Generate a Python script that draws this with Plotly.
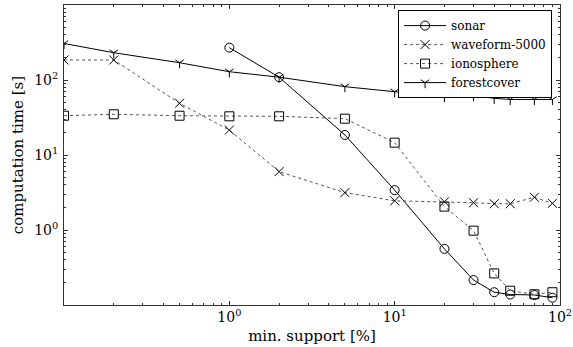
import plotly.graph_objects as go

support = [0.1, 0.2, 0.5, 1, 2, 5, 10, 20, 30, 40, 50, 70, 90]

sonar_x = [1, 2, 5, 10, 20, 30, 40, 50, 70, 90]
sonar_y = [270, 109, 18.5, 3.4, 0.56, 0.215, 0.148, 0.138, 0.136, 0.125]

waveform_y = [185, 185, 49, 21.5, 6.0, 3.15, 2.45, 2.38, 2.31, 2.24, 2.24, 2.73, 2.27]
ionosphere_y = [33.4, 34.9, 33.4, 32.8, 32.8, 30.5, 14.6, 2.05, 0.98, 0.264, 0.155, 0.139, 0.148]
forest_y = [307, 231, 170, 129, 109, 81.5, 69.8, 60, 62, 57, 55, 55, 55]

x_tickvals = [1, 10, 100]
x_ticktext = ["10<sup>0</sup>", "10<sup>1</sup>", "10<sup>2</sup>"]
y_tickvals = [1, 10, 100]
y_ticktext = ["10<sup>0</sup>", "10<sup>1</sup>", "10<sup>2</sup>"]

FONT = "'DejaVu Serif', 'Liberation Serif', serif"

fig = go.Figure()
fig.add_trace(go.Scatter(
    x=sonar_x, y=sonar_y, name="sonar", mode="lines+markers",
    line=dict(color="black", width=1),
    marker=dict(symbol="circle-open", size=9, color="black", line=dict(width=1)),
))
fig.add_trace(go.Scatter(
    x=support, y=waveform_y, name="waveform-5000", mode="lines+markers",
    line=dict(color="#555555", width=1, dash="dot"),
    marker=dict(symbol="x-thin-open", size=9, color="black", line=dict(width=1, color="black")),
))
fig.add_trace(go.Scatter(
    x=support, y=ionosphere_y, name="ionosphere", mode="lines+markers",
    line=dict(color="#555555", width=1, dash="dot"),
    marker=dict(symbol="square-open", size=9, color="black", line=dict(width=1)),
))
fig.add_trace(go.Scatter(
    x=support, y=forest_y, name="forestcover", mode="lines+markers",
    line=dict(color="black", width=1),
    marker=dict(symbol="y-down-open", size=7, color="black", line=dict(width=1, color="black")),
))

minor_vals = [m * 10 ** e for e in (-1, 0, 1, 2) for m in range(2, 10)]

axis_common = dict(
    type="log", showgrid=False, zeroline=False, automargin=False,
    showline=True, linecolor="#333333", linewidth=1, mirror="allticks",
    ticks="inside", ticklen=4, tickcolor="#333333",
    tickfont=dict(family=FONT, size=14, color="black"),
    ticklabeloverflow="allow",
)

fig.update_xaxes(
    **axis_common, range=[-1, 2], tickvals=x_tickvals, ticktext=x_ticktext,
    ticklabelstandoff=-1,
    minor=dict(ticks="inside", ticklen=2, tickcolor="#333333", tickvals=minor_vals, showgrid=False),
    title=dict(text="min. support [%]", font=dict(family=FONT, size=15, color="black"), standoff=6),
)
fig.update_yaxes(
    **axis_common, range=[-1, 3], tickvals=y_tickvals, ticktext=y_ticktext,
    ticklabelstandoff=2,
    minor=dict(ticks="inside", ticklen=2, tickcolor="#333333", tickvals=minor_vals, showgrid=False),
    title=dict(text="computation time [s]", font=dict(family=FONT, size=15, color="black"), standoff=6),
)

fig.update_layout(
    width=573, height=347,
    margin=dict(l=64, r=13, t=5, b=42),
    plot_bgcolor="white", paper_bgcolor="white",
    font=dict(family=FONT, size=14, color="black"),
    legend=dict(
        x=0.984, y=0.983, xanchor="right", yanchor="top",
        bgcolor="white", bordercolor="black", borderwidth=1,
        font=dict(family=FONT, size=12, color="black"),
        tracegroupgap=0, itemwidth=42,
    ),
)

fig.write_html("out.html", config={"displayModeBar": False},
               post_script="document.body.style.margin='0';")
